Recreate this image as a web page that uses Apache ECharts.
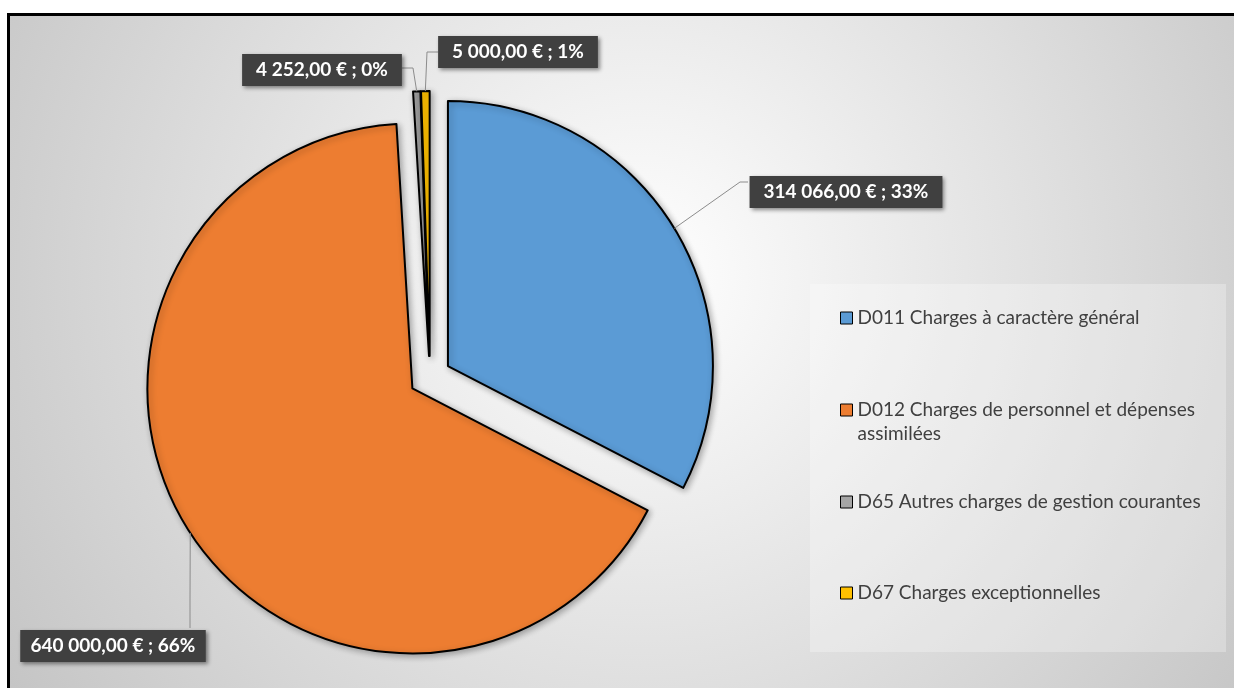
<!DOCTYPE html>
<html>
<head>
<meta charset="utf-8">
<script src="https://cdn.jsdelivr.net/npm/echarts@6/dist/echarts.min.js"></script>
<style>
html,body{margin:0;padding:0;background:#fff;}
#chart{width:1234px;height:688px;}
</style>
</head>
<body>
<div id="chart"></div>
<script>
// ---- data ----
const categories = [
  'D011 Charges à caractère général',
  'D012 Charges de personnel et dépenses assimilées',
  'D65 Autres charges de gestion courantes',
  'D67 Charges exceptionnelles'
];
const values = [314066, 640000, 4252, 5000];
const colors = ['#5b9bd5', '#ed7d31', '#a5a5a5', '#ffc000'];

// ---- layout (annotation positions, not data) ----
const pieCenter = [430, 377];
const pieRadius = 265;
const explode = 21;
const labelCenters = [[846, 192], [113, 646], [322, 70], [518, 52]];
const labelElbows  = [[740, 182], [190, 600], [413, 68], [427, 52]];
const labelEnds    = [[748, 182], [190, 628], [402, 68], [438, 52]];
const legendCenters = [318, 410, 502, 593];

function fmtEuro(v) {
  const parts = v.toFixed(2).split('.');
  return parts[0].replace(/\B(?=(\d{3})+(?!\d))/g, ' ') + ',' + parts[1] + ' €';
}

const chart = echarts.init(document.getElementById('chart'), null, {renderer: 'canvas'});

const legends = categories.map((name, i) => {
  const twoLine = name.indexOf(' assimilées') >= 0;
  return {
    orient: 'horizontal',
    left: 840,
    top: twoLine ? legendCenters[i] - 36 : legendCenters[i] - 12,
    padding: 0,
    data: [name],
    icon: 'rect',
    itemWidth: 12,
    itemHeight: 12,
    selectedMode: false,
    itemStyle: {borderColor: '#000', borderWidth: 1, shadowBlur: 0, shadowOffsetX: 0, shadowOffsetY: 0},
    formatter: function (n) {
      return twoLine ? '\n' + n.replace(' assimilées', '\nassimilées') : n;
    },
    textStyle: {
      color: '#404040',
      fontFamily: 'Lato',
      fontSize: 19,
      lineHeight: 24
    }
  };
});

const option = {
  animation: false,
  backgroundColor: {
    type: 'radial', x: 0.52, y: 0.4, r: 1.15,
    colorStops: [
      {offset: 0, color: '#ffffff'},
      {offset: 1, color: '#c2c2c2'}
    ]
  },
  color: colors,
  legend: legends,
  graphic: [
    {type: 'rect', z: 0, shape: {x: 810, y: 284, width: 416, height: 368}, style: {fill: 'rgba(255,255,255,0.28)'}},
    {type: 'rect', z: 100, shape: {x: 0, y: 0, width: 1234, height: 13}, style: {fill: '#fff'}},
    {type: 'rect', z: 100, shape: {x: 0, y: 0, width: 7, height: 688}, style: {fill: '#fff'}},
    {type: 'rect', z: 101, shape: {x: 7, y: 13, width: 1227, height: 3}, style: {fill: '#000'}},
    {type: 'rect', z: 101, shape: {x: 7, y: 13, width: 3, height: 675}, style: {fill: '#000'}}
  ],
  series: [{
    // exploded slices
    type: 'pie',
    center: pieCenter,
    radius: pieRadius,
    startAngle: 90,
    clockwise: true,
    selectedMode: 'multiple',
    selectedOffset: explode,
    itemStyle: {
      borderColor: '#000',
      borderWidth: 2,
      shadowBlur: 6,
      shadowColor: 'rgba(0,0,0,0.3)',
      shadowOffsetX: 2,
      shadowOffsetY: 2
    },
    label: {show: false},
    labelLine: {show: false},
    emphasis: {disabled: true},
    data: categories.map((name, i) => ({name: name, value: values[i], selected: true}))
  }, {
    // data labels (same data, invisible slices)
    type: 'pie',
    center: pieCenter,
    radius: pieRadius,
    startAngle: 90,
    clockwise: true,
    silent: true,
    z: 3,
    itemStyle: {color: 'rgba(0,0,0,0)', borderWidth: 0},
    label: {
      show: true,
      position: 'outside',
      overflow: 'none',
      edgeDistance: 0,
      formatter: function (p) {
        return fmtEuro(p.value) + ' ; ' + Math.round(p.percent) + '%';
      },
      color: '#fff',
      fontFamily: 'Lato',
      fontWeight: 'bold',
      fontSize: 19,
      backgroundColor: '#404040',
      padding: [7, 14, 6, 14],
      shadowBlur: 4,
      shadowColor: 'rgba(0,0,0,0.45)',
      shadowOffsetX: 2,
      shadowOffsetY: 2
    },
    labelLine: {
      show: true,
      length: 4,
      length2: 4,
      lineStyle: {color: '#8c8c8c', width: 1}
    },
    labelLayout: function (params) {
      const i = params.dataIndex;
      let s = labelElbows[i];
      if (params.labelLinePoints) {
        const p = params.labelLinePoints[0];
        const dx = p[0] - pieCenter[0], dy = p[1] - pieCenter[1];
        const d = Math.sqrt(dx * dx + dy * dy) || 1;
        s = [p[0] + dx / d * explode, p[1] + dy / d * explode];
      }
      return {
        x: labelCenters[i][0],
        y: labelCenters[i][1],
        align: 'center',
        verticalAlign: 'middle',
        labelLinePoints: [s, labelElbows[i], labelEnds[i]]
      };
    },
    emphasis: {disabled: true},
    data: categories.map((name, i) => ({name: name, value: values[i]}))
  }]
};

chart.setOption(option);
</script>
</body>
</html>
